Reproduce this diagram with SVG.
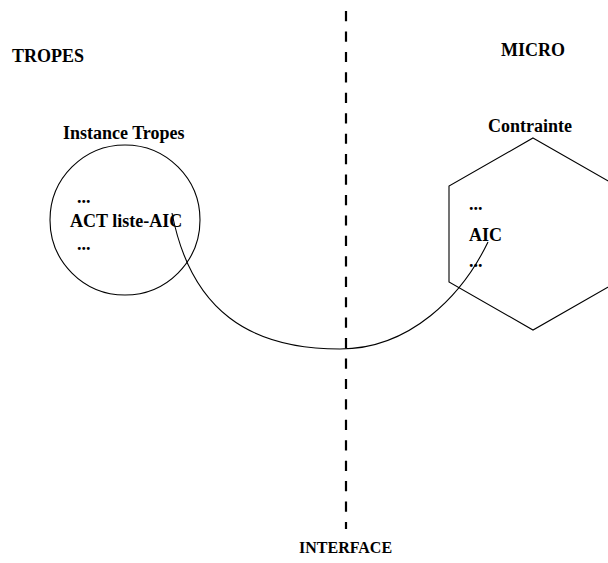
<svg xmlns="http://www.w3.org/2000/svg" width="608" height="563" viewBox="0 0 608 563">
<style>
text{font-family:"Liberation Serif","Times New Roman",serif;font-weight:bold;font-size:18px;fill:#000}
.sh{fill:none;stroke:#000;stroke-width:1.1}
.dash{fill:none;stroke:#000;stroke-width:2.2;stroke-dasharray:10.2 10.24}
</style>
<rect width="608" height="563" fill="#fff"/>
<g id="labels">
<text x="12" y="62">TROPES</text>
<text x="501" y="56">MICRO</text>
<text x="299" y="553" style="font-size:16px">INTERFACE</text>
</g>
<g id="interface-line">
<line class="dash" x1="346" y1="11" x2="346" y2="529"/>
</g>
<g id="instance-tropes">
<circle class="sh" cx="125" cy="220" r="75"/>
<text x="63" y="139">Instance Tropes</text>
<text x="77" y="203">...</text>
<text x="70" y="227">ACT liste-AIC</text>
<text x="77" y="250">...</text>
</g>
<g id="contrainte">
<polygon class="sh" points="533,138 617,186 617,282 533,330 449,282 449,186"/>
<text x="488" y="132">Contrainte</text>
<text x="469" y="210">...</text>
<text x="469" y="241">AIC</text>
<text x="469" y="267">...</text>
</g>
<g id="connectors">
<path class="sh" d="M172,213 C191,311 250,349 340,349 C410,349 462,296 488,242"/>
</g>
</svg>
